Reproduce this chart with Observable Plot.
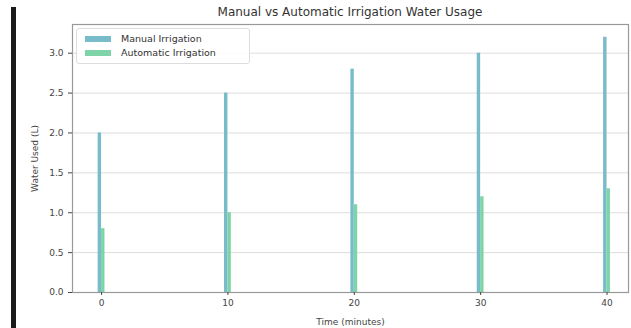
<!DOCTYPE html>
<html>
<head>
<meta charset="utf-8">
<script src="https://cdn.jsdelivr.net/npm/d3@7"></script>
<script src="https://cdn.jsdelivr.net/npm/@observablehq/plot@0.6"></script>
<style>
  body { margin: 0; background: #fff; font-family: "DejaVu Sans", sans-serif; }
  #wrap { position: relative; width: 631px; height: 328px; overflow: hidden; }
  #title { position: absolute; left: 72px; width: 556px; top: 5px; text-align: center; font-size: 12px; color: #333; }
  #blackbar { position: absolute; left: 11px; top: 7px; width: 5px; height: 321px; background: #1a1a1a; }
  #legend { position: absolute; left: 76px; top: 28px; width: 172px; height: 34px; border: 1px solid #ddd; border-radius: 3px; background: rgba(255,255,255,0.85); font-size: 9.5px; color: #333; }
  .row { position: absolute; left: 8px; display: flex; align-items: center; }
  .sw { width: 26px; height: 6px; margin-right: 10px; }
  svg { position: absolute; left: 0; top: 0; }
</style>
</head>
<body>
<div id="wrap">
  <div id="blackbar"></div>
  <div id="chart"></div>
  <div id="title">Manual vs Automatic Irrigation Water Usage</div>
  <div id="legend"></div>
</div>
<script>
const times = [0, 10, 20, 30, 40];
const manual = [2.0, 2.5, 2.8, 3.0, 3.2];
const automatic = [0.8, 1.0, 1.1, 1.2, 1.3];
const seriesNames = ["Manual Irrigation", "Automatic Irrigation"];
const seriesColors = ["#78bcc9", "#7fd3a8"];
const yTicks = [0, 0.5, 1.0, 1.5, 2.0, 2.5, 3.0];

const barW = 0.27;
const data = [];
times.forEach((t, i) => {
  data.push({t, v: manual[i], s: seriesNames[0], x1: t - barW, x2: t});
  data.push({t, v: automatic[i], s: seriesNames[1], x1: t, x2: t + barW});
});

const chart = Plot.plot({
  width: 631,
  height: 328,
  marginTop: 24,
  marginBottom: 36,
  marginLeft: 72,
  marginRight: 3,
  style: { fontFamily: "DejaVu Sans, sans-serif", fontSize: "9px", color: "#444", background: "transparent" },
  x: { domain: [-2.3, 41.7] },
  y: { domain: [0, 3.36] },
  color: { domain: seriesNames, range: seriesColors },
  marks: [
    Plot.gridY(yTicks, { stroke: "#ddd", strokeOpacity: 1, strokeWidth: 1 }),
    Plot.rectY(data, { x1: "x1", x2: "x2", y: "v", fill: "s" }),
    Plot.frame({ stroke: "#999", strokeWidth: 1.2 }),
    Plot.axisX({ ticks: times, tickFormat: d => String(d), label: "Time (minutes)", labelAnchor: "center", labelArrow: "none", labelOffset: 32, tickSize: 3, tickPadding: 4 }),
    Plot.axisY({ ticks: yTicks, tickFormat: d => d.toFixed(1), label: "Water Used (L)", labelAnchor: "center", labelArrow: "none", labelOffset: 41, tickSize: 4, tickPadding: 5 })
  ]
});
document.getElementById("chart").appendChild(chart);

const legend = document.getElementById("legend");
seriesNames.forEach((name, i) => {
  const row = document.createElement("div");
  row.className = "row";
  row.style.top = (4 + i * 14) + "px";
  row.innerHTML = `<div class="sw" style="background:${seriesColors[i]}"></div><span>${name}</span>`;
  legend.appendChild(row);
});
</script>
</body>
</html>
